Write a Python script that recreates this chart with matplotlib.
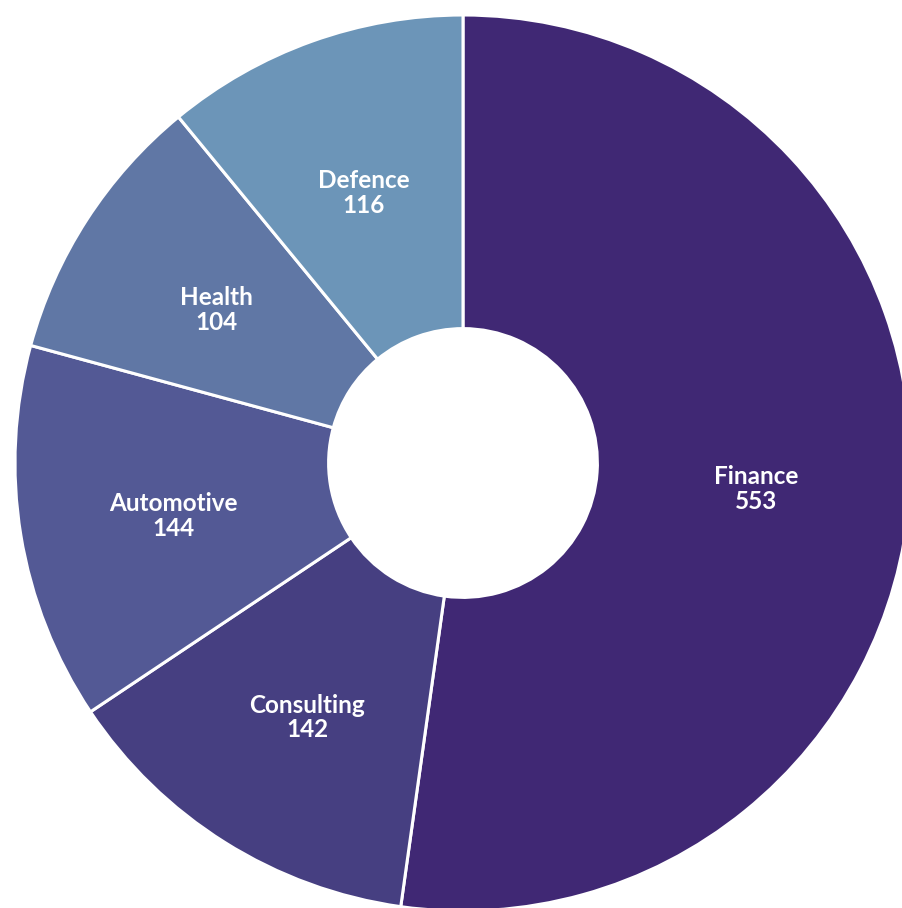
import matplotlib.pyplot as plt

# sector headcount by industry
sectors = ['Finance', 'Consulting', 'Automotive', 'Health', 'Defence']
counts = [553, 142, 144, 104, 116]
colors = ['#402874', '#463f81', '#535995', '#6077a5', '#6c95b8']

plt.rcParams['font.family'] = ['Lato', 'DejaVu Sans']

fig = plt.figure(figsize=(9.02, 9.08), dpi=100)
ax = fig.add_axes([0, 0, 1, 1])

wedges, texts = ax.pie(counts, colors=colors, startangle=90, counterclock=False,
                       radius=1.0, labels=[s + '\n' + str(c) for s, c in zip(sectors, counts)],
                       labeldistance=0.655,
                       wedgeprops=dict(width=0.70, edgecolor='white', linewidth=2.2),
                       textprops=dict(color='white', fontsize=17.5, fontweight='bold',
                                      ha='center', va='center', linespacing=1.1))

# labels sit a little below the wedge midline
for t in texts:
    x, y = t.get_position()
    t.set_position((x, y - 6 / 448))

# centre at (463, 463) px, radius 448 px
ax.set_xlim(-463 / 448, 439 / 448)
ax.set_ylim(-445 / 448, 463 / 448)
ax.set_aspect('auto')
ax.axis('off')

fig.savefig('out.png', dpi=100)
